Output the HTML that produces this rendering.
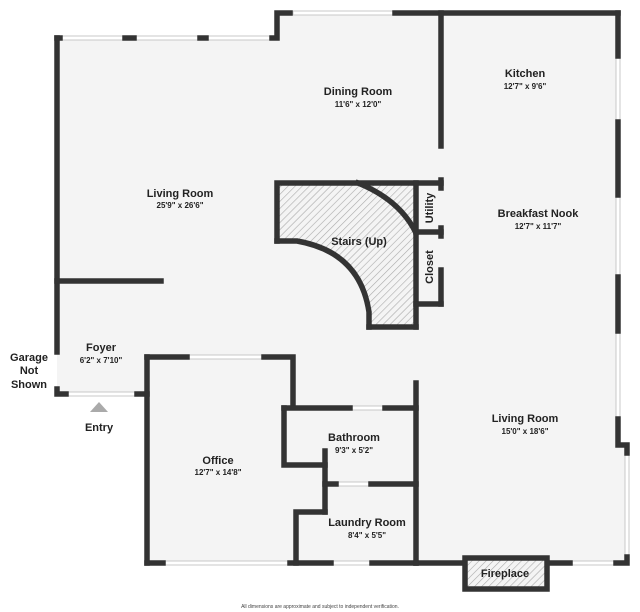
<!DOCTYPE html>
<html><head><style>
html,body{margin:0;padding:0;background:#fff;}
svg{display:block;}
text{font-family:"Liberation Sans",sans-serif;fill:#222;text-anchor:middle;}
.n{font-size:11px;font-weight:bold;}
.d{font-size:8px;font-weight:bold;}
</style></head><body>
<svg width="640" height="612" viewBox="0 0 640 612" xmlns="http://www.w3.org/2000/svg">
<defs>
<pattern id="h" width="5" height="5" patternUnits="userSpaceOnUse" patternTransform="rotate(45)">
<rect width="5" height="5" fill="#f4f4f4"/><line x1="0" y1="0" x2="0" y2="5" stroke="#aaa" stroke-width="1.2"/>
</pattern>
</defs>
<polygon points="57,38 277,38 277,13 618,13 618,445 627,445 627,563 147,563 147,394 57,394" fill="#f4f4f4"/>
<!-- stairs hatch -->
<path d="M277,183 L416,183 L416,327 L369,327 L369,310 Q355,250 297,241 L277,241 Z" fill="url(#h)"/>
<rect x="463" y="556" width="86" height="35" fill="url(#h)"/>
<g fill="#fff" stroke="#c8c8c8" stroke-width="1">
<rect x="60" y="36" width="218" height="4"/>
<rect x="293" y="11" width="100" height="4"/>
<rect x="616" y="58" width="4" height="62"/>
<rect x="616" y="197" width="4" height="78"/>
<rect x="616" y="333" width="4" height="84"/>
<rect x="625" y="455" width="4" height="100"/>
<rect x="572" y="561" width="42" height="4"/>
<rect x="68" y="392" width="67" height="4"/>
<rect x="189" y="355" width="73" height="4"/>
<rect x="165" y="561" width="123" height="4"/>
<rect x="333" y="561" width="37" height="4"/>
<rect x="352" y="406" width="31" height="4"/>
<rect x="338" y="482" width="31" height="4"/>
</g>
<g stroke="#333" stroke-width="5.5" fill="none" stroke-linecap="square">
<!-- top -->
<line x1="57" y1="38" x2="60" y2="38"/>
<line x1="125" y1="38" x2="134" y2="38"/>
<line x1="200" y1="38" x2="206" y2="38"/>
<polyline points="272,38 277,38 277,13 290,13"/>
<line x1="395" y1="13" x2="618" y2="13"/>
<line x1="618" y1="13" x2="618" y2="56"/>
<line x1="618" y1="122" x2="618" y2="195"/>
<line x1="618" y1="277" x2="618" y2="331"/>
<polyline points="618,419 618,445 627,445 627,453"/>
<polyline points="627,557 627,563 616,563"/>
<line x1="549" y1="563" x2="570" y2="563"/>
<line x1="416" y1="563" x2="463" y2="563"/>
<rect x="465" y="558" width="82" height="31"/>
<line x1="372" y1="563" x2="416" y2="563"/>
<line x1="290" y1="563" x2="331" y2="563"/>
<line x1="147" y1="563" x2="163" y2="563"/>
<!-- left -->
<line x1="57" y1="38" x2="57" y2="352"/>
<polyline points="57,389 57,394 66,394"/>
<line x1="137" y1="394" x2="147" y2="394"/>
<line x1="57" y1="281" x2="161" y2="281"/>
<!-- office -->
<line x1="147" y1="357" x2="147" y2="563"/>
<line x1="147" y1="357" x2="187" y2="357"/>
<polyline points="264,357 293,357 293,407"/>
<!-- bathroom / laundry -->
<polyline points="284,408 284,465 325,465"/>
<line x1="284" y1="408" x2="350" y2="408"/>
<line x1="385" y1="408" x2="416" y2="408"/>
<line x1="416" y1="383" x2="416" y2="563"/>
<line x1="325" y1="451" x2="325" y2="512"/>
<polyline points="325,512 296,512 296,563"/>
<line x1="325" y1="484" x2="336" y2="484"/>
<line x1="371" y1="484" x2="416" y2="484"/>
<!-- divider -->
<line x1="441" y1="13" x2="441" y2="146"/>
<line x1="441" y1="180" x2="441" y2="188"/>
<line x1="441" y1="228" x2="441" y2="236"/>
<line x1="441" y1="270" x2="441" y2="304"/>
<!-- stairs -->
<polyline points="277,241 277,183 441,183"/>
<line x1="416" y1="183" x2="416" y2="327"/>
<line x1="416" y1="232" x2="441" y2="232"/>
<line x1="416" y1="304" x2="441" y2="304"/>
<polyline points="369,327 416,327"/>
<path d="M369,327 L369,312 Q360,252 297,241 L277,241"/>
<path d="M358,183 Q400,200 416,233"/>
</g>
<polygon points="99,402 90,412 108,412" fill="#aaa"/>
<text class="n" x="358" y="95">Dining Room</text><text class="d" x="358" y="107">11'6" x 12'0"</text>
<text class="n" x="180" y="197">Living Room</text><text class="d" x="180" y="208">25'9" x 26'6"</text>
<text class="n" x="525" y="77">Kitchen</text><text class="d" x="525" y="89">12'7" x 9'6"</text>
<text class="n" x="538" y="217">Breakfast Nook</text><text class="d" x="538" y="229">12'7" x 11'7"</text>
<text class="n" x="359" y="245">Stairs (Up)</text>
<text class="n" transform="translate(433,208) rotate(-90)">Utility</text>
<text class="n" transform="translate(433,267) rotate(-90)">Closet</text>
<text class="n" x="101" y="351">Foyer</text><text class="d" x="101" y="363">6'2" x 7'10"</text>
<text class="n" x="29" y="361">Garage</text><text class="n" x="29" y="374">Not</text><text class="n" x="29" y="388">Shown</text>
<text class="n" x="99" y="431">Entry</text>
<text class="n" x="218" y="464">Office</text><text class="d" x="218" y="475">12'7" x 14'8"</text>
<text class="n" x="354" y="441">Bathroom</text><text class="d" x="354" y="453">9'3" x 5'2"</text>
<text class="n" x="367" y="526">Laundry Room</text><text class="d" x="367" y="538">8'4" x 5'5"</text>
<text class="n" x="525" y="422">Living Room</text><text class="d" x="525" y="434">15'0" x 18'6"</text>
<text class="n" x="505" y="577">Fireplace</text>
<text x="320" y="608" style="font-size:5px;fill:#444">All dimensions are approximate and subject to independent verification.</text>
</svg>
</body></html>
